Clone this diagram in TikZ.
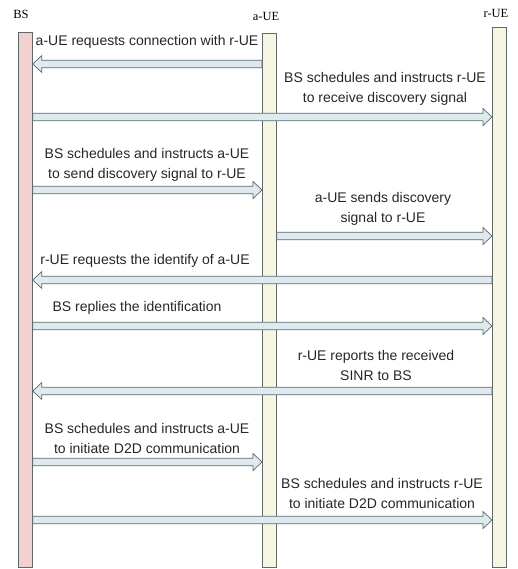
\documentclass[tikz,border=0pt]{standalone}
\usepackage{fontspec}
\setmainfont{Liberation Sans}
\newfontfamily\headfont{Liberation Serif}
\usetikzlibrary{calc}

\definecolor{bspink}{RGB}{242,208,208}
\definecolor{uecream}{RGB}{246,246,226}
\definecolor{msgfill}{RGB}{222,234,240}
\definecolor{edgegray}{RGB}{95,105,105}

\tikzset{
  lifeline/.style={draw=edgegray, line width=0.8pt, inner sep=0pt, minimum width=14pt},
  header/.style={font=\headfont\fontsize{12.5}{12.5}\selectfont, inner sep=0pt},
  msglabel/.style={font=\fontsize{14}{20}\selectfont, align=center, inner sep=0pt, text=black!85},
  % horizontal block arrow from start to target
  msg/.style={draw=edgegray, fill=msgfill, line width=0.7pt, line join=miter,
    to path={
      let \p1=(\tikztostart), \p2=(\tikztotarget),
          \n1={ifthenelse(\x2>\x1,1,-1)} in
      (\x1,{\y1+3.8pt}) -- ({\x2-\n1*9pt},{\y1+3.8pt}) -- ({\x2-\n1*9pt},{\y1+8.5pt})
      -- (\x2,\y1) -- ({\x2-\n1*9pt},{\y1-8.5pt}) -- ({\x2-\n1*9pt},{\y1-3.8pt})
      -- (\x1,{\y1-3.8pt}) -- cycle
    }}
}

\begin{document}
\begin{tikzpicture}[x=1pt, y=-1pt]
\useasboundingbox (0,0) rectangle (518,569);

% lifelines
\node[lifeline, fill=bspink, minimum height=535pt, anchor=north west] (bs) at (18,32) {};
\node[lifeline, fill=uecream, minimum height=534pt, anchor=north west] (aue) at (262,33) {};
\node[lifeline, fill=uecream, minimum height=540pt, anchor=north west] (rue) at (492,27) {};

\node[header] (bsl) at (21,14) {BS};
\node[header] (auel) at (266,16) {a-UE};
\node[header] (ruel) at (496,13) {r-UE};

% message levels
\coordinate (y1) at (0,64);
\coordinate (y2) at (0,117);
\coordinate (y3) at (0,190);
\coordinate (y4) at (0,236);
\coordinate (y5) at (0,280);
\coordinate (y6) at (0,326);
\coordinate (y7) at (0,391);
\coordinate (y8) at (0,462);
\coordinate (y9) at (0,520);

\draw[msg] (aue.west |- y1) to (bs.east |- y1);
\draw[msg] (bs.east |- y2) to (rue.west |- y2);
\draw[msg] (bs.east |- y3) to (aue.west |- y3);
\draw[msg] (aue.east |- y4) to (rue.west |- y4);
\draw[msg] (rue.west |- y5) to (bs.east |- y5);
\draw[msg] (bs.east |- y6) to (rue.west |- y6);
\draw[msg] (rue.west |- y7) to (bs.east |- y7);
\draw[msg] (bs.east |- y8) to (aue.west |- y8);
\draw[msg] (bs.east |- y9) to (rue.west |- y9);

% message texts
\node[msglabel] (t1) at (147,42) {a-UE requests connection with r-UE};
\node[msglabel] (t2) at (385,89) {BS schedules and instructs r-UE\\to receive discovery signal};
\node[msglabel] (t3) at (147,165) {BS schedules and instructs a-UE\\to send discovery signal to r-UE};
\node[msglabel] (t4) at (383,209) {a-UE sends discovery\\signal to r-UE};
\node[msglabel] (t5) at (145,261) {r-UE requests the identify of a-UE};
\node[msglabel] (t6) at (137,308) {BS replies the identification};
\node[msglabel] (t7) at (376,365) {r-UE reports the received\\SINR to BS};
\node[msglabel] (t8) at (147,438) {BS schedules and instructs a-UE\\to initiate D2D communication};
\node[msglabel] (t9) at (382,493) {BS schedules and instructs r-UE\\to initiate D2D communication};
\end{tikzpicture}
\end{document}
